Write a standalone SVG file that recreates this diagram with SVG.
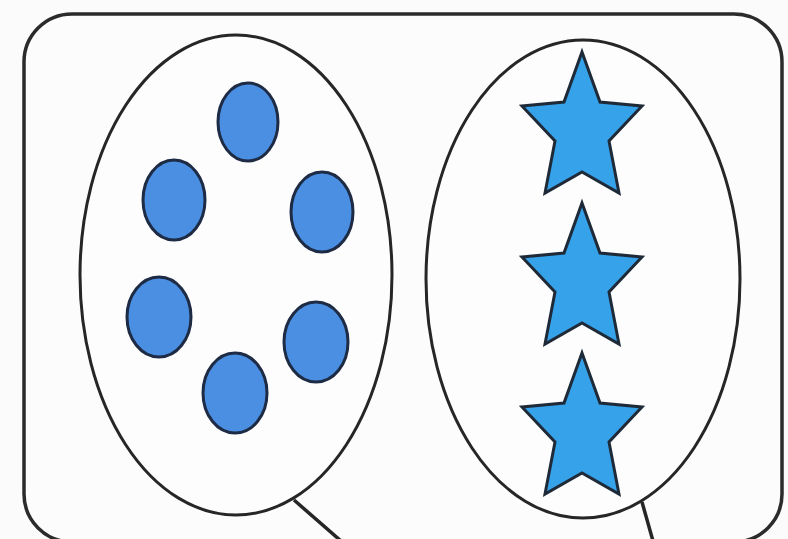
<svg xmlns="http://www.w3.org/2000/svg" width="788" height="539" viewBox="0 0 788 539">
  <defs>
    <style>
      .frame { fill: #fcfcfc; stroke: #2b2b2b; stroke-width: 3.5; }
      .set { fill: #fdfdfd; stroke: #262626; stroke-width: 3; }
      .dot { fill: #4a8fe2; stroke: #1e2b45; stroke-width: 3; }
      .star { fill: #35a2ea; stroke: #1f2a38; stroke-width: 3; stroke-linejoin: miter; }
      .conn { fill: none; stroke: #262626; stroke-width: 3.5; }
    </style>
    <path id="starShape" d="M0,0 L18,50 L60,54 L27,89 L37,141 L0,120 L-37,141 L-27,89 L-60,54 L-18,50 Z"/>
  </defs>
  <rect x="0" y="0" width="788" height="539" fill="#fbfbfb"/>
  <g id="frame">
    <rect class="frame" x="24" y="14" width="758" height="528" rx="48" ry="48"/>
  </g>
  <g id="connectors">
    <line class="conn" x1="294" y1="500" x2="341" y2="541"/>
    <line class="conn" x1="642" y1="502" x2="653" y2="541"/>
  </g>
  <g id="set-circles">
    <ellipse class="set" cx="236" cy="275" rx="156" ry="240"/>
    <g id="circle-1"><ellipse class="dot" cx="248" cy="122" rx="30" ry="39"/></g>
    <g id="circle-2"><ellipse class="dot" cx="174" cy="200" rx="31" ry="40"/></g>
    <g id="circle-3"><ellipse class="dot" cx="322" cy="212" rx="31" ry="40"/></g>
    <g id="circle-4"><ellipse class="dot" cx="159" cy="317" rx="32" ry="40"/></g>
    <g id="circle-5"><ellipse class="dot" cx="235" cy="393" rx="32" ry="40"/></g>
    <g id="circle-6"><ellipse class="dot" cx="316" cy="342" rx="32" ry="40"/></g>
  </g>
  <g id="set-stars">
    <ellipse class="set" cx="583" cy="279" rx="157" ry="239"/>
    <g id="star-1"><use href="#starShape" class="star" transform="translate(582,52)"/></g>
    <g id="star-2"><use href="#starShape" class="star" transform="translate(582,203)"/></g>
    <g id="star-3"><use href="#starShape" class="star" transform="translate(582,353)"/></g>
  </g>
</svg>
